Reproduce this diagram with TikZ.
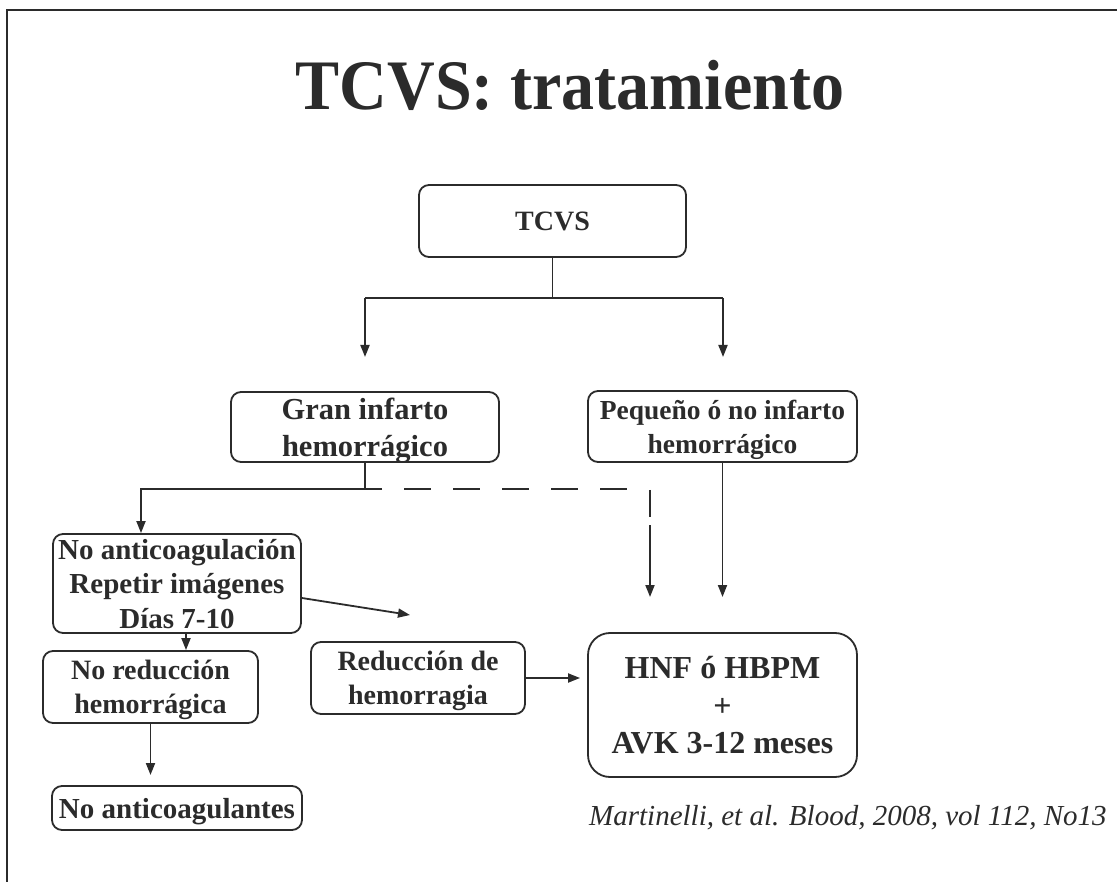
\documentclass[tikz,border=0pt]{standalone}
\usepackage{fontspec}
\usepackage{graphicx}
\setmainfont{Liberation Serif}
\usetikzlibrary{arrows.meta}
\definecolor{ink}{HTML}{2B2B2B}
\begin{document}
\begin{tikzpicture}[x=1pt,y=-1pt,
  box/.style={draw=ink, line width=1.8pt, rounded corners=10pt, inner sep=0pt, align=center, text=ink, text depth=0pt},
  conn/.style={draw=ink, line width=1.8pt},
  arr/.style={conn, -{Triangle[length=12pt,width=9pt]}},
  dashconn/.style={conn, dash pattern=on 27pt off 22pt, dash phase=27pt}
]
\useasboundingbox (0,0) rectangle (1117,882);
% slide frame
\draw[ink, line width=1.6pt] (7,882) -- (7,10) -- (1117,10);

% title
\node[font=\fontsize{71}{80}\selectfont\bfseries, text=ink, anchor=base, inner sep=0pt] (title) at (570,110) {\scalebox{0.93}[1]{TCVS: tratamiento}};

% boxes
\node[box, minimum width=267pt, minimum height=72pt, font=\fontsize{28}{33}\selectfont\bfseries] (tcvs) at (552.5,221) {TCVS};
\node[box, minimum width=268pt, minimum height=70pt, font=\fontsize{30.5}{37}\selectfont\bfseries] (gran) at (365,427) {Gran infarto\\hemorrágico};
\node[box, minimum width=269pt, minimum height=71pt, font=\fontsize{27.5}{34}\selectfont\bfseries] (peq) at (722.5,426.5) {Pequeño ó no infarto\\hemorrágico};
\node[box, minimum width=248pt, minimum height=99pt, font=\fontsize{29}{34.5}\selectfont\bfseries] (noac) at (177,583.5) {No anticoagulación\\Repetir imágenes\\Días 7-10};
\node[box, minimum width=215pt, minimum height=72pt, font=\fontsize{28}{34}\selectfont\bfseries] (nored) at (150.5,687) {No reducción\\hemorrágica};
\node[box, minimum width=250pt, minimum height=44pt, font=\fontsize{29}{34}\selectfont\bfseries] (noacg) at (177,808) {No anticoagulantes};
\node[box, minimum width=214pt, minimum height=72pt, font=\fontsize{28}{34}\selectfont\bfseries] (red) at (418,678) {Reducción de\\hemorragia};
\node[box, rounded corners=22pt, minimum width=269pt, minimum height=144pt, font=\fontsize{32}{37.5}\selectfont\bfseries] (hnf) at (722.5,705) {HNF ó HBPM\\+\\AVK 3-12 meses};

% citation
\node[font=\fontsize{29}{34}\selectfont\itshape, text=ink, anchor=base west, inner sep=0pt] (cite) at (589,825) {Martinelli, et al. Blood, 2008, vol 112, No13};

% coordinates for free ends
\coordinate (bL) at (365,298);
\coordinate (bR) at (723,298);
\coordinate (aL) at (365,357);
\coordinate (aR) at (723,357);
\coordinate (gj) at (365,489);
\coordinate (gl) at (141,489);
\coordinate (ds) at (382,489);
\coordinate (de) at (633,489);
\coordinate (dv1) at (650,490);
\coordinate (dv2) at (650,517);
\coordinate (dv3) at (650,525);
\coordinate (dv4) at (650,597);
\coordinate (nf) at (410,615);
\coordinate (nend) at (150,775);

% connectors
\draw[conn] (tcvs.south) -- (tcvs.south |- bL);
\draw[conn] (bL) -- (bR);
\draw[arr] (bL) -- (aL);
\draw[arr] (bR) -- (aR);

\draw[conn] (gran.south) -- (gj);
\draw[arr] (ds) -- (gl) -- (gl |- noac.north);
\draw[dashconn] (ds) -- (de);
\draw[conn] (dv1) -- (dv2);
\draw[arr] (dv3) -- (dv4);
\draw[arr] (peq.south) -- (peq.south |- dv4);

\draw[arr] ([yshift=-14.5pt]noac.east) -- (nf);
\draw[arr] ([xshift=9pt]noac.south) -- ([xshift=9pt]noac.south |- nored.north);
\draw[arr] (nored.south) -- (nored.south |- nend);
\draw[arr, shorten >=7pt] (red.east) -- (red.east -| hnf.west);
\end{tikzpicture}
\end{document}
